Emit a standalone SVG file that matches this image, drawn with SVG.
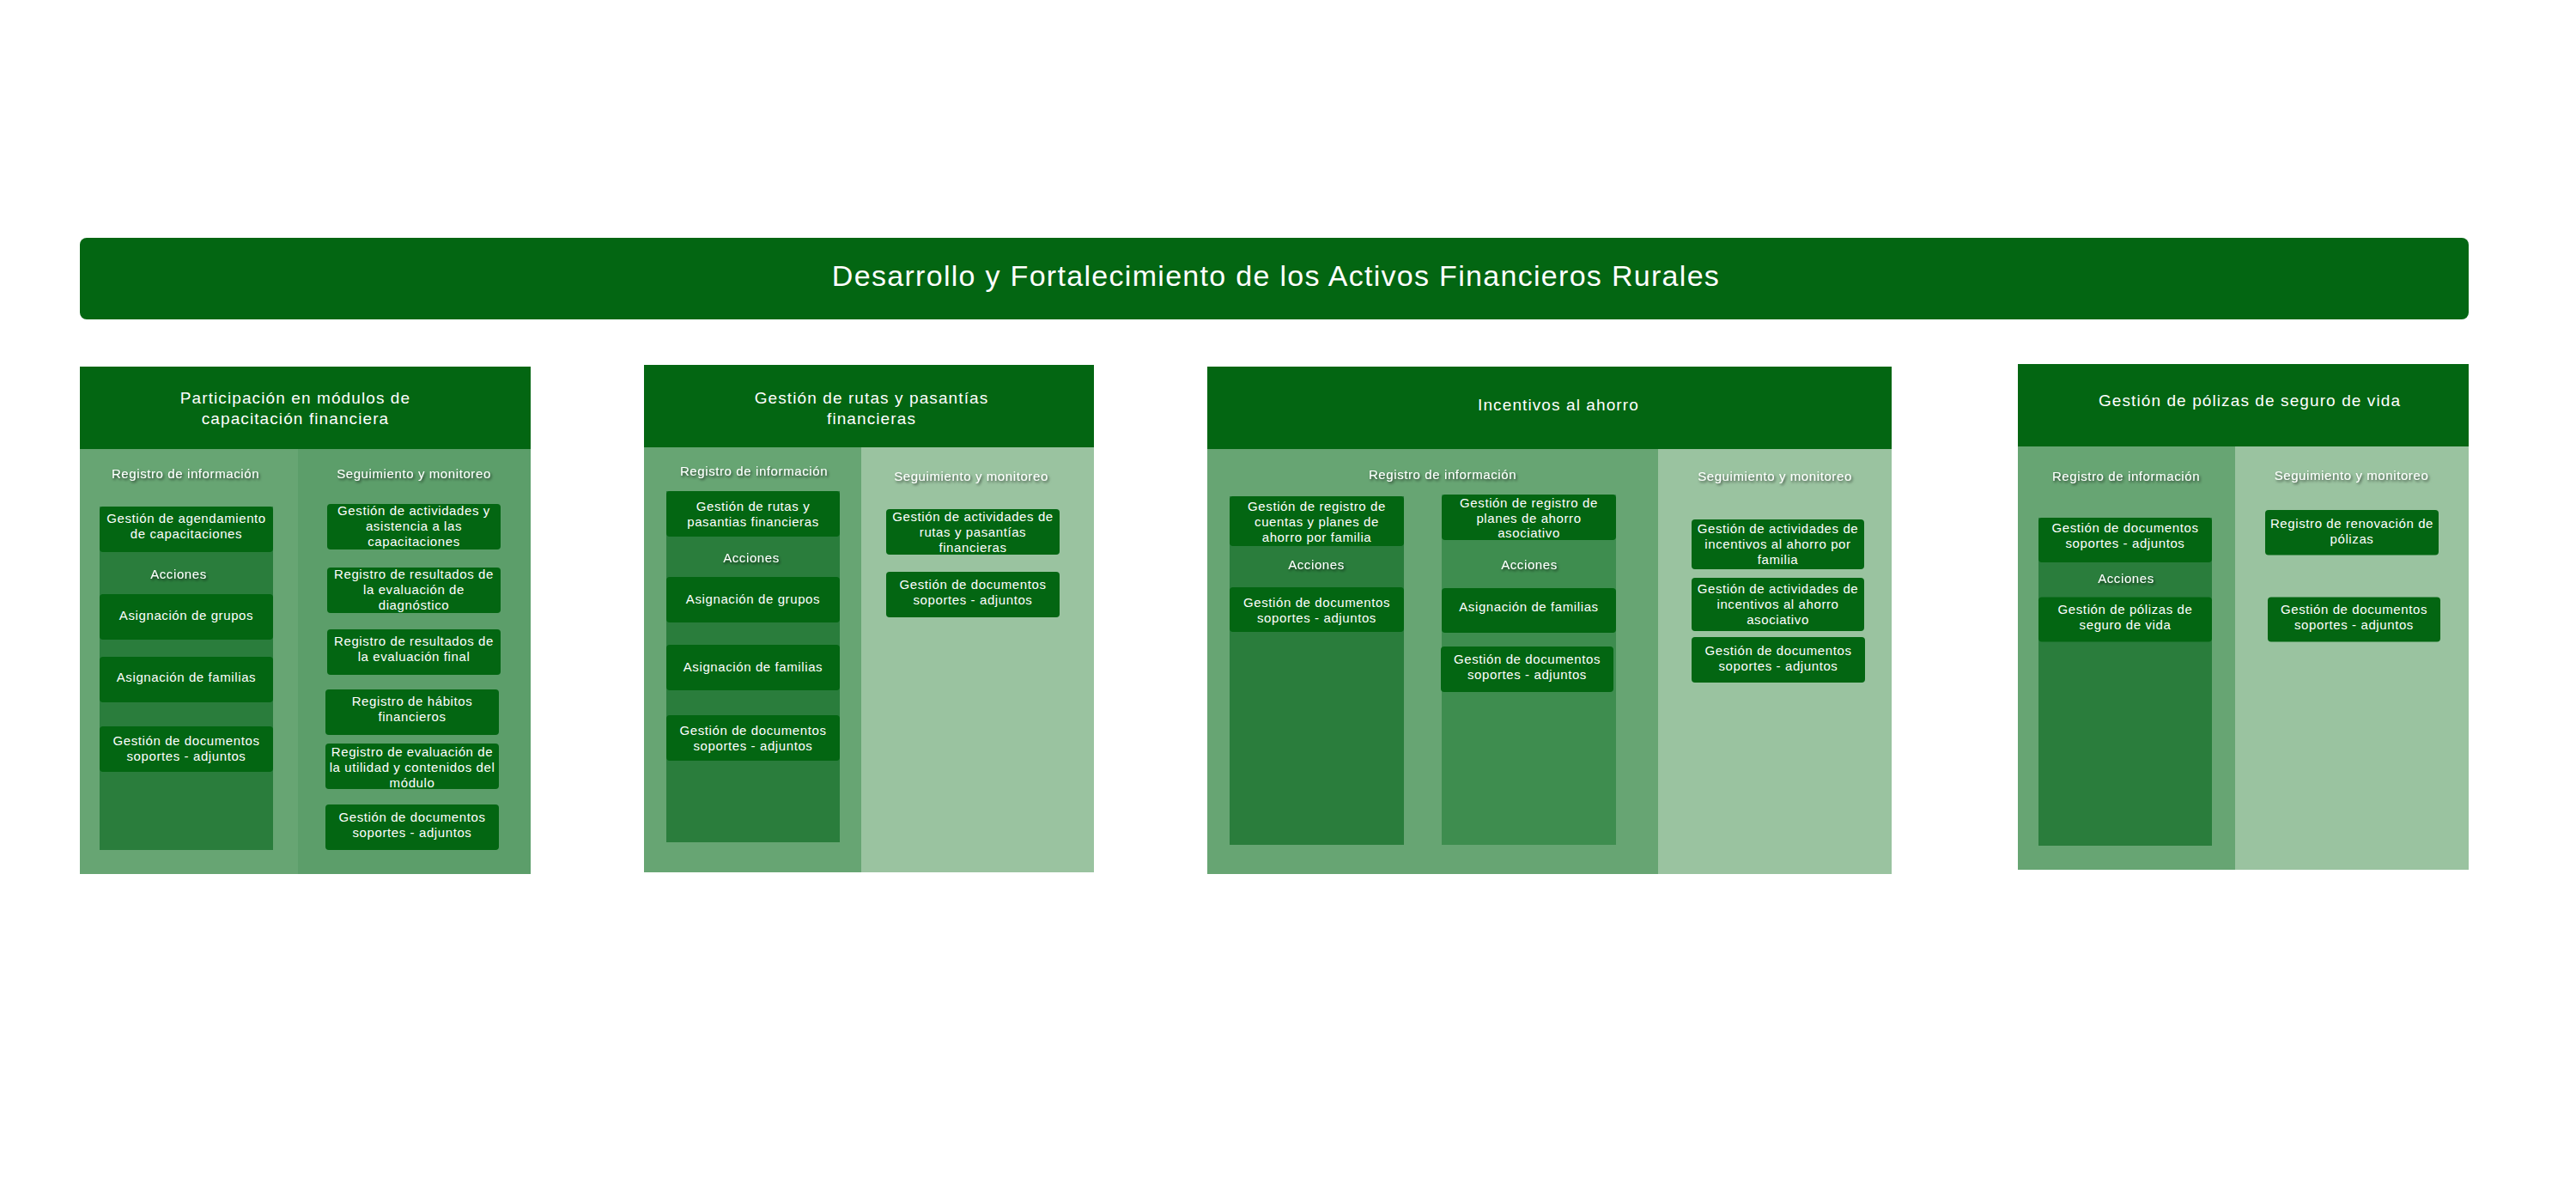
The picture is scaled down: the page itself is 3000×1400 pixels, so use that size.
<svg xmlns="http://www.w3.org/2000/svg" width="3000" height="1400" viewBox="0 0 3000 1400">
  <defs>
    <filter id="labelShadow" x="-10%" y="-40%" width="120%" height="180%">
      <feDropShadow dx="1.5" dy="2" stdDeviation="1.4" flood-color="#000" flood-opacity="0.6"/>
    </filter>
  </defs>
  <style>
    text { font-family: "Liberation Sans", Arial, Helvetica, sans-serif; fill: #ffffff; text-anchor: middle; }
    .bar { fill: #036612; }
    .head { fill: #036612; }
    .subA { fill: #67a573; }
    .subB { fill: #5c9e6a; }
    .subC { fill: #9ac3a0; }
    .panel { fill: #2a7d3c; }
    .panel2 { fill: #3e8d4f; }
    .box { fill: #036612; }
    .title { font-size: 34px; letter-spacing: 1.3px; }
    .htxt { font-size: 19px; letter-spacing: 1.1px; }
    .btxt { font-size: 15px; letter-spacing: 0.6px; }
    .lbl { font-size: 15px; letter-spacing: 0.6px; filter: url(#labelShadow); }
  </style>

  <rect width="3000" height="1400" fill="#ffffff"/>

  <!-- Main title -->
  <g id="title">
    <rect class="bar" x="93" y="277" width="2782" height="95" rx="8"/>
    <text class="title" x="1486" y="333">Desarrollo y Fortalecimiento de los Activos Financieros Rurales</text>
  </g>

  <!-- Column 1: Participación en módulos de capacitación financiera -->
  <g id="col-capacitacion">
    <rect class="subA" x="93" y="523" width="254" height="495"/>
    <rect class="subB" x="347" y="523" width="271" height="495"/>
    <rect class="head" x="93" y="427" width="525" height="96"/>
    <text class="htxt"><tspan x="344" y="470">Participación en módulos de</tspan><tspan x="344" y="494">capacitación financiera</tspan></text>
    <text class="lbl" x="216" y="557">Registro de información</text>
    <text class="lbl" x="482" y="557">Seguimiento y monitoreo</text>
    <rect class="panel" x="116" y="590" width="202" height="400"/>
    <text class="lbl" x="208" y="674">Acciones</text>
  </g>
  <g id="c1-agendamiento">
    <rect class="box" x="116" y="590" width="202" height="53" rx="4"/>
    <text class="btxt"><tspan x="217" y="609">Gestión de agendamiento</tspan><tspan x="217" y="627">de capacitaciones</tspan></text>
  </g>
  <g id="c1-grupos">
    <rect class="box" x="116" y="692" width="202" height="53" rx="4"/>
    <text class="btxt" x="217" y="722">Asignación de grupos</text>
  </g>
  <g id="c1-familias">
    <rect class="box" x="116" y="765" width="202" height="53" rx="4"/>
    <text class="btxt" x="217" y="794">Asignación de familias</text>
  </g>
  <g id="c1-documentos">
    <rect class="box" x="116" y="846" width="202" height="53" rx="4"/>
    <text class="btxt"><tspan x="217" y="868">Gestión de documentos</tspan><tspan x="217" y="886">soportes - adjuntos</tspan></text>
  </g>
  <g id="c1-actividades">
    <rect class="box" x="381" y="587" width="202" height="53" rx="4"/>
    <text class="btxt"><tspan x="482" y="600">Gestión de actividades y</tspan><tspan x="482" y="618">asistencia a las</tspan><tspan x="482" y="636">capacitaciones</tspan></text>
  </g>
  <g id="c1-diagnostico">
    <rect class="box" x="381" y="661" width="202" height="53" rx="4"/>
    <text class="btxt"><tspan x="482" y="674">Registro de resultados de</tspan><tspan x="482" y="692">la evaluación de</tspan><tspan x="482" y="710">diagnóstico</tspan></text>
  </g>
  <g id="c1-final">
    <rect class="box" x="381" y="733" width="202" height="53" rx="4"/>
    <text class="btxt"><tspan x="482" y="752">Registro de resultados de</tspan><tspan x="482" y="770">la evaluación final</tspan></text>
  </g>
  <g id="c1-habitos">
    <rect class="box" x="379" y="803" width="202" height="53" rx="4"/>
    <text class="btxt"><tspan x="480" y="822">Registro de hábitos</tspan><tspan x="480" y="840">financieros</tspan></text>
  </g>
  <g id="c1-utilidad">
    <rect class="box" x="379" y="866" width="202" height="53" rx="4"/>
    <text class="btxt"><tspan x="480" y="881">Registro de evaluación de</tspan><tspan x="480" y="899">la utilidad y contenidos del</tspan><tspan x="480" y="917">módulo</tspan></text>
  </g>
  <g id="c1-soportes">
    <rect class="box" x="379" y="937" width="202" height="53" rx="4"/>
    <text class="btxt"><tspan x="480" y="957">Gestión de documentos</tspan><tspan x="480" y="975">soportes - adjuntos</tspan></text>
  </g>

  <!-- Column 2: Gestión de rutas y pasantías financieras -->
  <g id="col-rutas">
    <rect class="subA" x="750" y="521" width="253" height="495"/>
    <rect class="subC" x="1003" y="521" width="271" height="495"/>
    <rect class="head" x="750" y="425" width="524" height="96"/>
    <text class="htxt"><tspan x="1015" y="469.5">Gestión de rutas y pasantías</tspan><tspan x="1015" y="493.5">financieras</tspan></text>
    <text class="lbl" x="878" y="553.5">Registro de información</text>
    <text class="lbl" x="1131" y="559.5">Seguimiento y monitoreo</text>
    <rect class="panel" x="776" y="572" width="202" height="409"/>
    <text class="lbl" x="875" y="655">Acciones</text>
  </g>
  <g id="c2-rutas">
    <rect class="box" x="776" y="572" width="202" height="53" rx="4"/>
    <text class="btxt"><tspan x="877" y="594.5">Gestión de rutas y</tspan><tspan x="877" y="612.5">pasantias financieras</tspan></text>
  </g>
  <g id="c2-grupos">
    <rect class="box" x="776" y="672" width="202" height="53" rx="4"/>
    <text class="btxt" x="877" y="703">Asignación de grupos</text>
  </g>
  <g id="c2-familias">
    <rect class="box" x="776" y="751" width="202" height="53" rx="4"/>
    <text class="btxt" x="877" y="782">Asignación de familias</text>
  </g>
  <g id="c2-documentos">
    <rect class="box" x="776" y="833" width="202" height="53" rx="4"/>
    <text class="btxt"><tspan x="877" y="856">Gestión de documentos</tspan><tspan x="877" y="874">soportes - adjuntos</tspan></text>
  </g>
  <g id="c2-actividades">
    <rect class="box" x="1032" y="593" width="202" height="53" rx="4"/>
    <text class="btxt"><tspan x="1133" y="607">Gestión de actividades de</tspan><tspan x="1133" y="625">rutas y pasantías</tspan><tspan x="1133" y="643">financieras</tspan></text>
  </g>
  <g id="c2-soportes">
    <rect class="box" x="1032" y="666" width="202" height="53" rx="4"/>
    <text class="btxt"><tspan x="1133" y="686">Gestión de documentos</tspan><tspan x="1133" y="704">soportes - adjuntos</tspan></text>
  </g>

  <!-- Column 3: Incentivos al ahorro -->
  <g id="col-incentivos">
    <rect class="subA" x="1406" y="523" width="525" height="495"/>
    <rect class="subC" x="1931" y="523" width="272" height="495"/>
    <rect class="head" x="1406" y="427" width="797" height="96"/>
    <text class="htxt" x="1815" y="478">Incentivos al ahorro</text>
    <text class="lbl" x="1680" y="557.5">Registro de información</text>
    <text class="lbl" x="2067" y="560">Seguimiento y monitoreo</text>
    <rect class="panel" x="1432" y="578" width="203" height="406"/>
    <rect class="panel2" x="1679" y="576" width="203" height="408"/>
    <text class="lbl" x="1533" y="663">Acciones</text>
    <text class="lbl" x="1781" y="663">Acciones</text>
  </g>
  <g id="c3-cuentas">
    <rect class="box" x="1432" y="578" width="203" height="58" rx="4"/>
    <text class="btxt"><tspan x="1533.5" y="594.5">Gestión de registro de</tspan><tspan x="1533.5" y="612.5">cuentas y planes de</tspan><tspan x="1533.5" y="630.5">ahorro por familia</tspan></text>
  </g>
  <g id="c3-documentos-a">
    <rect class="box" x="1432" y="684" width="203" height="52" rx="4"/>
    <text class="btxt"><tspan x="1533.5" y="707">Gestión de documentos</tspan><tspan x="1533.5" y="725">soportes - adjuntos</tspan></text>
  </g>
  <g id="c3-asociativo">
    <rect class="box" x="1679" y="576" width="203" height="53" rx="4"/>
    <text class="btxt"><tspan x="1780.5" y="590.5">Gestión de registro de</tspan><tspan x="1780.5" y="608.5">planes de ahorro</tspan><tspan x="1780.5" y="626">asociativo</tspan></text>
  </g>
  <g id="c3-familias">
    <rect class="box" x="1679" y="685" width="203" height="52" rx="4"/>
    <text class="btxt" x="1780.5" y="712">Asignación de familias</text>
  </g>
  <g id="c3-documentos-b">
    <rect class="box" x="1678" y="753" width="201" height="53" rx="4"/>
    <text class="btxt"><tspan x="1778.5" y="773">Gestión de documentos</tspan><tspan x="1778.5" y="791">soportes - adjuntos</tspan></text>
  </g>
  <g id="c3-incentivos-familia">
    <rect class="box" x="1970" y="605" width="201" height="58" rx="4"/>
    <text class="btxt"><tspan x="2070.5" y="621">Gestión de actividades de</tspan><tspan x="2070.5" y="639">incentivos al ahorro por</tspan><tspan x="2070.5" y="657">familia</tspan></text>
  </g>
  <g id="c3-incentivos-asociativo">
    <rect class="box" x="1970" y="673" width="201" height="62" rx="4"/>
    <text class="btxt"><tspan x="2070.5" y="691">Gestión de actividades de</tspan><tspan x="2070.5" y="709">incentivos al ahorro</tspan><tspan x="2070.5" y="727">asociativo</tspan></text>
  </g>
  <g id="c3-soportes">
    <rect class="box" x="1970" y="742" width="202" height="53" rx="4"/>
    <text class="btxt"><tspan x="2071" y="763">Gestión de documentos</tspan><tspan x="2071" y="781">soportes - adjuntos</tspan></text>
  </g>

  <!-- Column 4: Gestión de pólizas de seguro de vida -->
  <g id="col-polizas">
    <rect class="subA" x="2350" y="520" width="253" height="493"/>
    <rect class="subC" x="2603" y="520" width="272" height="493"/>
    <rect class="head" x="2350" y="424" width="525" height="96"/>
    <text class="htxt" x="2620" y="473">Gestión de pólizas de seguro de vida</text>
    <text class="lbl" x="2476" y="559.5">Registro de información</text>
    <text class="lbl" x="2738.5" y="558.5">Seguimiento y monitoreo</text>
    <rect class="panel" x="2374" y="603" width="202" height="382"/>
    <text class="lbl" x="2476" y="679">Acciones</text>
  </g>
  <g id="c4-documentos">
    <rect class="box" x="2374" y="603" width="202" height="52" rx="4"/>
    <text class="btxt"><tspan x="2475" y="620">Gestión de documentos</tspan><tspan x="2475" y="638">soportes - adjuntos</tspan></text>
  </g>
  <g id="c4-polizas">
    <rect class="box" x="2374" y="695.5" width="202" height="52" rx="4"/>
    <text class="btxt"><tspan x="2475" y="714.5">Gestión de pólizas de</tspan><tspan x="2475" y="732.5">seguro de vida</tspan></text>
  </g>
  <g id="c4-renovacion">
    <rect class="box" x="2638" y="594" width="202" height="52.5" rx="4"/>
    <text class="btxt"><tspan x="2739" y="615">Registro de renovación de</tspan><tspan x="2739" y="633">pólizas</tspan></text>
  </g>
  <g id="c4-soportes">
    <rect class="box" x="2641" y="695.5" width="201" height="52" rx="4"/>
    <text class="btxt"><tspan x="2741.5" y="714.5">Gestión de documentos</tspan><tspan x="2741.5" y="732.5">soportes - adjuntos</tspan></text>
  </g>
</svg>
